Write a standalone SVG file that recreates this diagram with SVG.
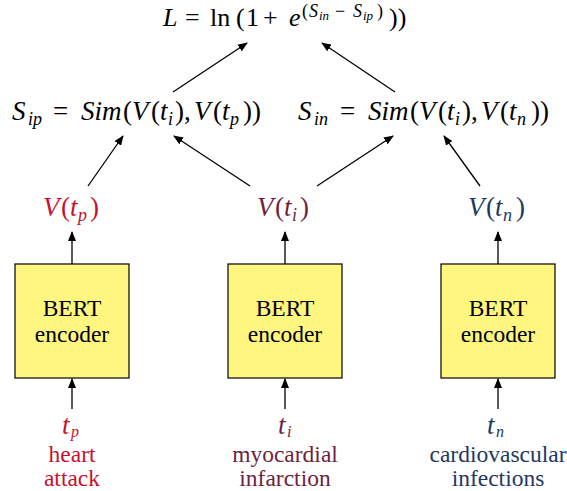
<svg xmlns="http://www.w3.org/2000/svg" width="567" height="491" viewBox="0 0 567 491" font-family="Liberation Serif, Times New Roman, DejaVu Serif, serif">
<style>
.m{font-size:27px;fill:#000}
.l{font-size:26px;fill:#000}
.i{font-style:italic}
.sb{font-size:18px;font-style:italic}
.sb2{font-size:16px;font-style:italic}
.su{font-size:18px}
.ss{font-size:13px;font-style:italic}
.t{font-size:23.5px;text-anchor:middle}
.box{fill:#fff67f;stroke:#000;stroke-width:1.2}
.a{stroke:#000;stroke-width:1.3;fill:none;marker-end:url(#ah)}
.p{fill:#c8102e}.pi{fill:#6e1f42}.n{fill:#1f3864}
</style>
<defs>
<marker id="ah" viewBox="0 0 10 8" refX="9" refY="4" markerWidth="10" markerHeight="8" markerUnits="userSpaceOnUse" orient="auto">
<path d="M0,0 L10,4 L0,8 z" fill="#000"/>
</marker>
</defs>
<g id="connectors">
<line class="a" x1="173" y1="92" x2="247" y2="43"/>
<line class="a" x1="395" y1="92" x2="322" y2="43"/>
<line class="a" x1="88" y1="186" x2="123" y2="136"/>
<line class="a" x1="250" y1="186" x2="174" y2="136"/>
<line class="a" x1="317" y1="186" x2="393" y2="136"/>
<line class="a" x1="480" y1="186" x2="444" y2="136"/>
<line class="a" x1="72" y1="264" x2="72" y2="232"/>
<line class="a" x1="285" y1="264" x2="285" y2="232"/>
<line class="a" x1="498" y1="264" x2="498" y2="232"/>
<line class="a" x1="72" y1="409" x2="72" y2="379"/>
<line class="a" x1="285" y1="409" x2="285" y2="379"/>
<line class="a" x1="498" y1="409" x2="498" y2="379"/>
</g>
<g id="loss">
<text class="l"><tspan class="i" x="163" y="26">L</tspan><tspan x="185" y="26">=</tspan><tspan x="210" y="26">ln</tspan><tspan x="236" y="26">(</tspan><tspan x="246" y="26">1</tspan><tspan x="263" y="26">+</tspan><tspan class="i" x="289" y="26">e</tspan><tspan class="su" x="302" y="17">(</tspan><tspan class="su i" x="309" y="17">S</tspan><tspan class="ss" x="319" y="20">in</tspan><tspan class="su" x="335" y="17">−</tspan><tspan class="su i" x="353" y="17">S</tspan><tspan class="ss" x="363" y="20">ip</tspan><tspan class="su" x="377" y="17">)</tspan><tspan x="389" y="26">))</tspan></text>
</g>
<g id="sip">
<text class="m"><tspan class="i" x="12" y="120">S</tspan><tspan class="sb" x="28" y="125">ip</tspan><tspan x="53" y="120">=</tspan><tspan class="i" x="81" y="120">Sim</tspan><tspan x="123" y="120">(</tspan><tspan class="i" x="132" y="120">V</tspan><tspan x="151" y="120">(</tspan><tspan class="i" x="160" y="120">t</tspan><tspan class="sb" x="168" y="125">i</tspan><tspan x="175" y="120">)</tspan><tspan x="184" y="120">,</tspan><tspan class="i" x="194" y="120">V</tspan><tspan x="213" y="120">(</tspan><tspan class="i" x="222" y="120">t</tspan><tspan class="sb" x="230" y="125">p</tspan><tspan x="243" y="120">))</tspan></text>
</g>
<g id="sin">
<text class="m"><tspan class="i" x="298" y="120">S</tspan><tspan class="sb" x="314" y="125">in</tspan><tspan x="340" y="120">=</tspan><tspan class="i" x="368" y="120">Sim</tspan><tspan x="410" y="120">(</tspan><tspan class="i" x="419" y="120">V</tspan><tspan x="438" y="120">(</tspan><tspan class="i" x="447" y="120">t</tspan><tspan class="sb" x="455" y="125">i</tspan><tspan x="462" y="120">)</tspan><tspan x="471" y="120">,</tspan><tspan class="i" x="481" y="120">V</tspan><tspan x="500" y="120">(</tspan><tspan class="i" x="509" y="120">t</tspan><tspan class="sb" x="517" y="125">n</tspan><tspan x="531" y="120">))</tspan></text>
</g>
<g id="vp">
<text class="m p"><tspan class="i" x="43" y="216">V</tspan><tspan x="61" y="216">(</tspan><tspan class="i" x="70" y="216">t</tspan><tspan class="sb" x="78" y="221">p</tspan><tspan x="90" y="216">)</tspan></text>
</g>
<g id="vi">
<text class="m pi"><tspan class="i" x="257" y="216">V</tspan><tspan x="275" y="216">(</tspan><tspan class="i" x="284" y="216">t</tspan><tspan class="sb" x="292" y="221">i</tspan><tspan x="300" y="216">)</tspan></text>
</g>
<g id="vn">
<text class="m n"><tspan class="i" x="468" y="216">V</tspan><tspan x="486" y="216">(</tspan><tspan class="i" x="495" y="216">t</tspan><tspan class="sb" x="503" y="221">n</tspan><tspan x="516" y="216">)</tspan></text>
</g>
<g id="bert1">
<rect class="box" x="15" y="264" width="114" height="114"/>
<text class="t" x="72" y="316">BERT</text>
<text class="t" x="72" y="342">encoder</text>
</g>
<g id="bert2">
<rect class="box" x="228" y="264" width="114" height="114"/>
<text class="t" x="285" y="316">BERT</text>
<text class="t" x="285" y="342">encoder</text>
</g>
<g id="bert3">
<rect class="box" x="441" y="264" width="114" height="114"/>
<text class="t" x="498" y="316">BERT</text>
<text class="t" x="498" y="342">encoder</text>
</g>
<g id="tp">
<text class="m p"><tspan class="i" x="62" y="434">t</tspan><tspan class="sb2" x="71" y="437">p</tspan></text>
<text class="t p" x="72" y="462">heart</text>
<text class="t p" x="72" y="486">attack</text>
</g>
<g id="ti">
<text class="m pi"><tspan class="i" x="278" y="434">t</tspan><tspan class="sb2" x="287" y="437">i</tspan></text>
<text class="t pi" x="285" y="462">myocardial</text>
<text class="t pi" x="285" y="486">infarction</text>
</g>
<g id="tn">
<text class="m n"><tspan class="i" x="487" y="434">t</tspan><tspan class="sb2" x="496" y="437">n</tspan></text>
<text class="t n" x="498" y="462">cardiovascular</text>
<text class="t n" x="498" y="486">infections</text>
</g>
</svg>
